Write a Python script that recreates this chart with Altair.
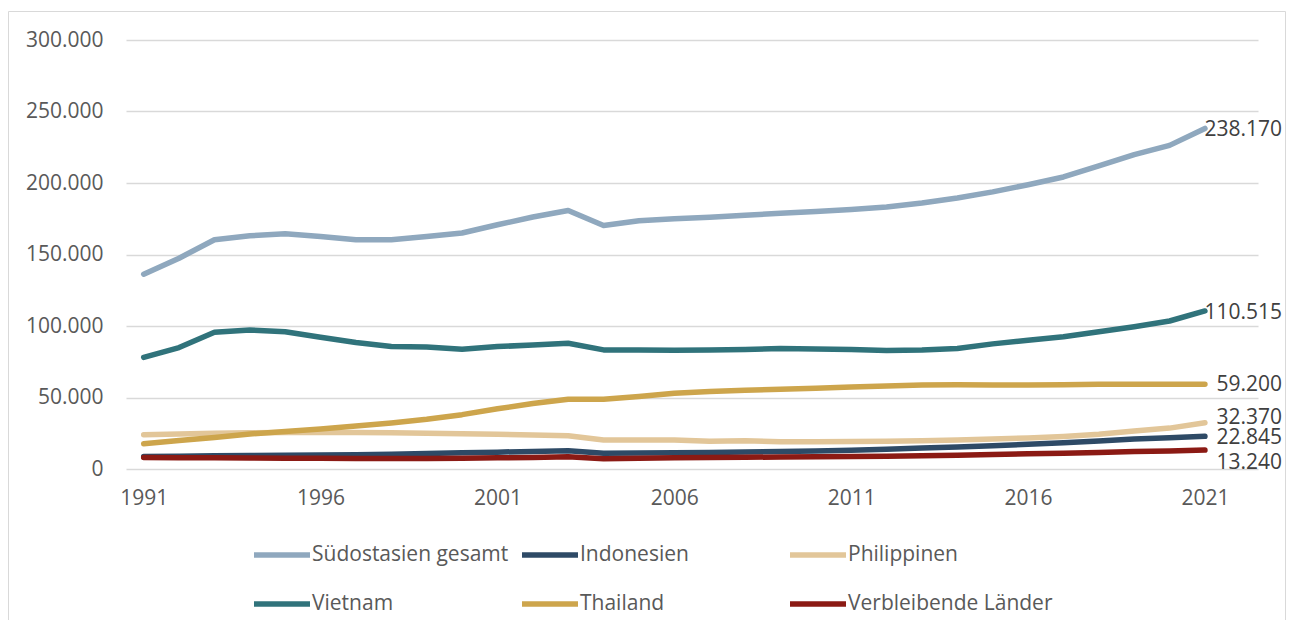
import altair as alt
import pandas as pd

years = list(range(1991, 2022))
series_names = ["Südostasien gesamt", "Indonesien", "Philippinen",
                "Vietnam", "Thailand", "Verbleibende Länder"]
colors = ["#8FA8BE", "#2E4A66", "#E2C699", "#30737B", "#CDA54C", "#8B1A14"]

gesamt = [136200, 147400, 160300, 163100, 164500, 162600, 160300, 160300, 162600, 165000,
          170800, 176200, 180800, 170300, 173600, 175000, 176000, 177500, 178800, 180000,
          181500, 183200, 186000, 189500, 193800, 198800, 204200, 212000, 219900, 226300, 238170]
indonesien = [8800, 9000, 9200, 9400, 9600, 9800, 10000, 10300, 10800, 11300,
              11800, 12300, 12800, 11000, 11200, 11400, 11600, 11900, 12200, 12600,
              13100, 13800, 14600, 15400, 16300, 17300, 18300, 19600, 21000, 21800, 22845]
philippinen = [24000, 24500, 25000, 25300, 25500, 25600, 25600, 25400, 25000, 24700,
               24300, 23800, 23300, 20300, 20300, 20200, 19400, 19800, 19000, 19000,
               19200, 19400, 19800, 20300, 20900, 21700, 22800, 24300, 26500, 28600, 32370]
vietnam = [78100, 84900, 95600, 97200, 96000, 92100, 88400, 85600, 85300, 83700,
           85600, 86700, 87900, 83300, 83300, 83000, 83200, 83500, 84200, 84000,
           83500, 82800, 83200, 84300, 87500, 90000, 92500, 96000, 99500, 103500, 110515]
thailand = [17700, 20000, 22100, 24500, 26300, 28000, 30000, 32200, 34800, 38000,
            42100, 45800, 48800, 48800, 50700, 53000, 54200, 55000, 55700, 56500,
            57300, 58000, 58700, 59000, 58800, 58800, 59000, 59200, 59200, 59200, 59200]
verbleibende = [8000, 7900, 7800, 7700, 7600, 7500, 7300, 7300, 7400, 7600,
                7800, 8100, 8600, 7200, 7600, 7800, 8000, 8200, 8400, 8600,
                8800, 9000, 9300, 9700, 10100, 10600, 11100, 11600, 12200, 12600, 13240]

y_ticks = [0, 50000, 100000, 150000, 200000, 250000, 300000]
x_ticks = [1991, 1996, 2001, 2006, 2011, 2016, 2021]

all_series = [gesamt, indonesien, philippinen, vietnam, thailand, verbleibende]

rows = []
for name, vals in zip(series_names, all_series):
    for yr, v in zip(years, vals):
        rows.append({"Jahr": yr, "Wert": v, "Reihe": name, "order": series_names.index(name)})
df = pd.DataFrame(rows)

FONT = "Open Sans"
W, H = 1132, 429

x_enc = alt.X("Jahr:Q",
              scale=alt.Scale(domain=[1990.5, 2022.5], nice=False, zero=False),
              axis=alt.Axis(values=x_ticks, format="d", grid=False, domain=False, ticks=False,
                            labelPadding=18, labelFontSize=21, labelColor="#595959",
                            labelFont=FONT, title=None))
y_enc = alt.Y("Wert:Q",
              scale=alt.Scale(domain=[0, 300000], nice=False),
              axis=alt.Axis(values=y_ticks, format=",d", grid=True, gridColor="#D9D9D9",
                            gridWidth=1.5, domain=False, ticks=False, labelPadding=23,
                            labelFontSize=21, labelColor="#595959", labelFont=FONT,
                            title=None))

lines = alt.Chart(df).mark_line(strokeWidth=5.5, strokeCap="round", strokeJoin="round").encode(
    x=x_enc,
    y=y_enc,
    color=alt.Color("Reihe:N",
                    scale=alt.Scale(domain=series_names, range=colors),
                    legend=alt.Legend(title=None, orient="none", legendX=143, legendY=502,
                                      direction="horizontal",
                                      columns=3, gridAlign="all", columnPadding=-6,
                                      rowPadding=25, symbolType="M-2.8,0L2.8,0",
                                      symbolSize=400, symbolStrokeWidth=5.5, labelOffset=17,
                                      labelFontSize=21, labelFont=FONT, labelColor="#595959",
                                      labelLimit=400, padding=0)),
    order=alt.Order("order:Q"),
    detail="Reihe:N",
)

label_dy = {"Südostasien gesamt": 2, "Vietnam": 2, "Thailand": 1,
            "Philippinen": -5, "Indonesien": 2, "Verbleibende Länder": 13}

last = df[df["Jahr"] == years[-1]]
text_layers = []
for name in series_names:
    sub = last[last["Reihe"] == name]
    t = alt.Chart(sub).mark_text(align="right", baseline="middle", dx=77, dy=label_dy[name],
                                 fontSize=21, font=FONT, color="#404040").encode(
        x=alt.X("Jahr:Q"),
        y=alt.Y("Wert:Q"),
        text=alt.Text("Wert:Q", format=",d"),
    )
    text_layers.append(t)

frame = alt.Chart(pd.DataFrame({"a": [0]})).mark_rect(
    fillOpacity=0, stroke="#D9D9D9", strokeWidth=1).encode(
    x=alt.value(-117.5), x2=alt.value(1159.5), y=alt.value(-28.5), y2=alt.value(640))

chart = alt.layer(frame, lines, *text_layers).properties(
    width=W, height=H,
    autosize=alt.AutoSizeParams(type="none"),
    padding={"left": 118, "top": 32, "right": 28, "bottom": 151},
).configure(
    locale={"number": {"decimal": ",", "thousands": ".", "grouping": [3],
                       "currency": ["", " €"]}},
).configure_view(stroke=None)

chart.save("out.html", embed_options={"renderer": "svg", "actions": False})
